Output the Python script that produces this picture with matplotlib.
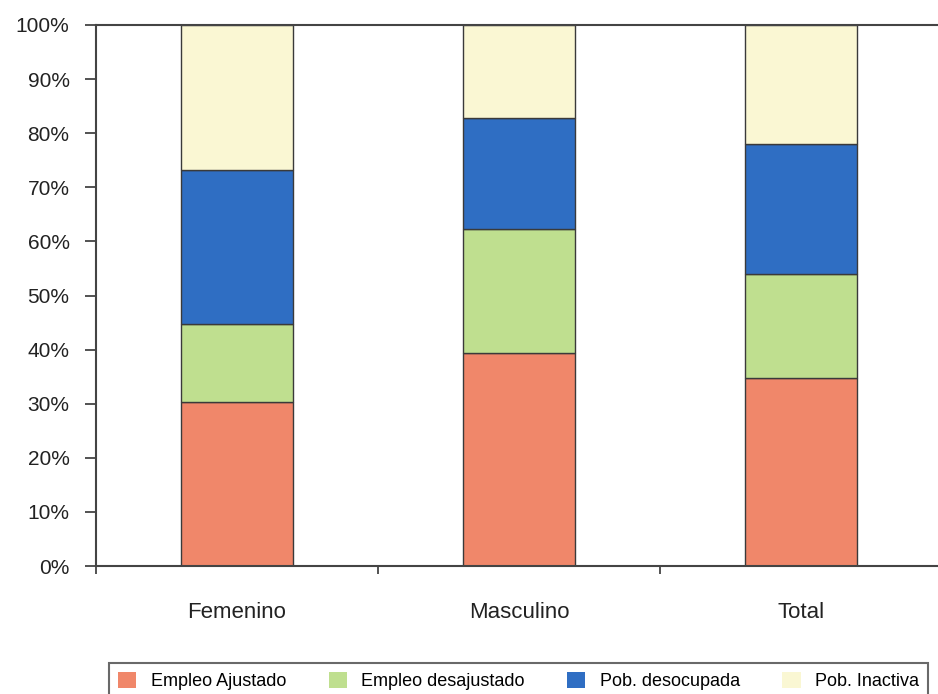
import matplotlib.pyplot as plt
import numpy as np

# Values (percent of each group)
categories = ['Femenino', 'Masculino', 'Total']
series_names = ['Empleo Ajustado', 'Empleo desajustado', 'Pob. desocupada', 'Pob. Inactiva']
empleo_ajustado = [30.3, 39.4, 34.7]
empleo_desajustado = [14.4, 22.8, 19.3]
pob_desocupada = [28.5, 20.7, 24.0]
pob_inactiva = [26.8, 17.1, 22.0]
colors = ['#F0876A', '#BFDF8F', '#2F6EC3', '#FAF7D3']
y_ticks = np.arange(0, 101, 10)


def plot_chart() -> None:
    plt.rcParams['font.family'] = ['Liberation Sans', 'DejaVu Sans']
    fig = plt.figure(figsize=(9.38, 6.94), dpi=100)
    ax = fig.add_axes([96 / 938, 1 - 566 / 694, 846 / 938, 541 / 694])

    x = np.arange(len(categories))
    bottom = np.zeros(len(categories))
    handles = []
    for name, vals, col in zip(series_names,
                               [empleo_ajustado, empleo_desajustado, pob_desocupada, pob_inactiva],
                               colors):
        b = ax.bar(x, vals, width=0.4, bottom=bottom, color=col,
                   edgecolor='#3a3a3a', linewidth=1.0, label=name)
        handles.append(b)
        bottom += np.array(vals)

    ax.set_xlim(-0.5, 2.5)
    ax.set_ylim(0, 100)

    # y axis
    ax.set_yticks(y_ticks)
    ax.set_yticklabels([f'{v}%' for v in y_ticks], fontsize=15)
    ax.tick_params(axis='y', direction='out', length=8, width=1.3, pad=11, colors='#444444',
                   labelcolor='#222222')

    # x axis: labels at categories, ticks between them
    ax.set_xticks(x)
    ax.set_xticklabels(categories, fontsize=16, color='#222222')
    ax.tick_params(axis='x', which='major', length=0, pad=26)
    ax.set_xticks([-0.5, 0.5, 1.5], minor=True)
    ax.tick_params(axis='x', which='minor', direction='out', length=6, width=1.3, colors='#444444')

    for side in ['left', 'bottom', 'top']:
        ax.spines[side].set_color('#444444')
        ax.spines[side].set_linewidth(1.5)
    ax.spines['right'].set_visible(False)

    leg = fig.legend(handles=handles, labels=series_names, ncol=4, loc='upper left',
                     bbox_to_anchor=(109 / 938, 1 - 663 / 694, 819 / 938, 0),
                     mode='expand', fontsize=13, frameon=True, fancybox=False,
                     handlelength=1.0, handleheight=1.0, handletextpad=0.8,
                     borderpad=0.5, borderaxespad=0)
    leg.get_frame().set_edgecolor('#444444')
    leg.get_frame().set_linewidth(1.5)
    for p in leg.get_patches():
        p.set_edgecolor('none')

    fig.savefig('out.png', dpi=100)


if __name__ == '__main__':
    plot_chart()
